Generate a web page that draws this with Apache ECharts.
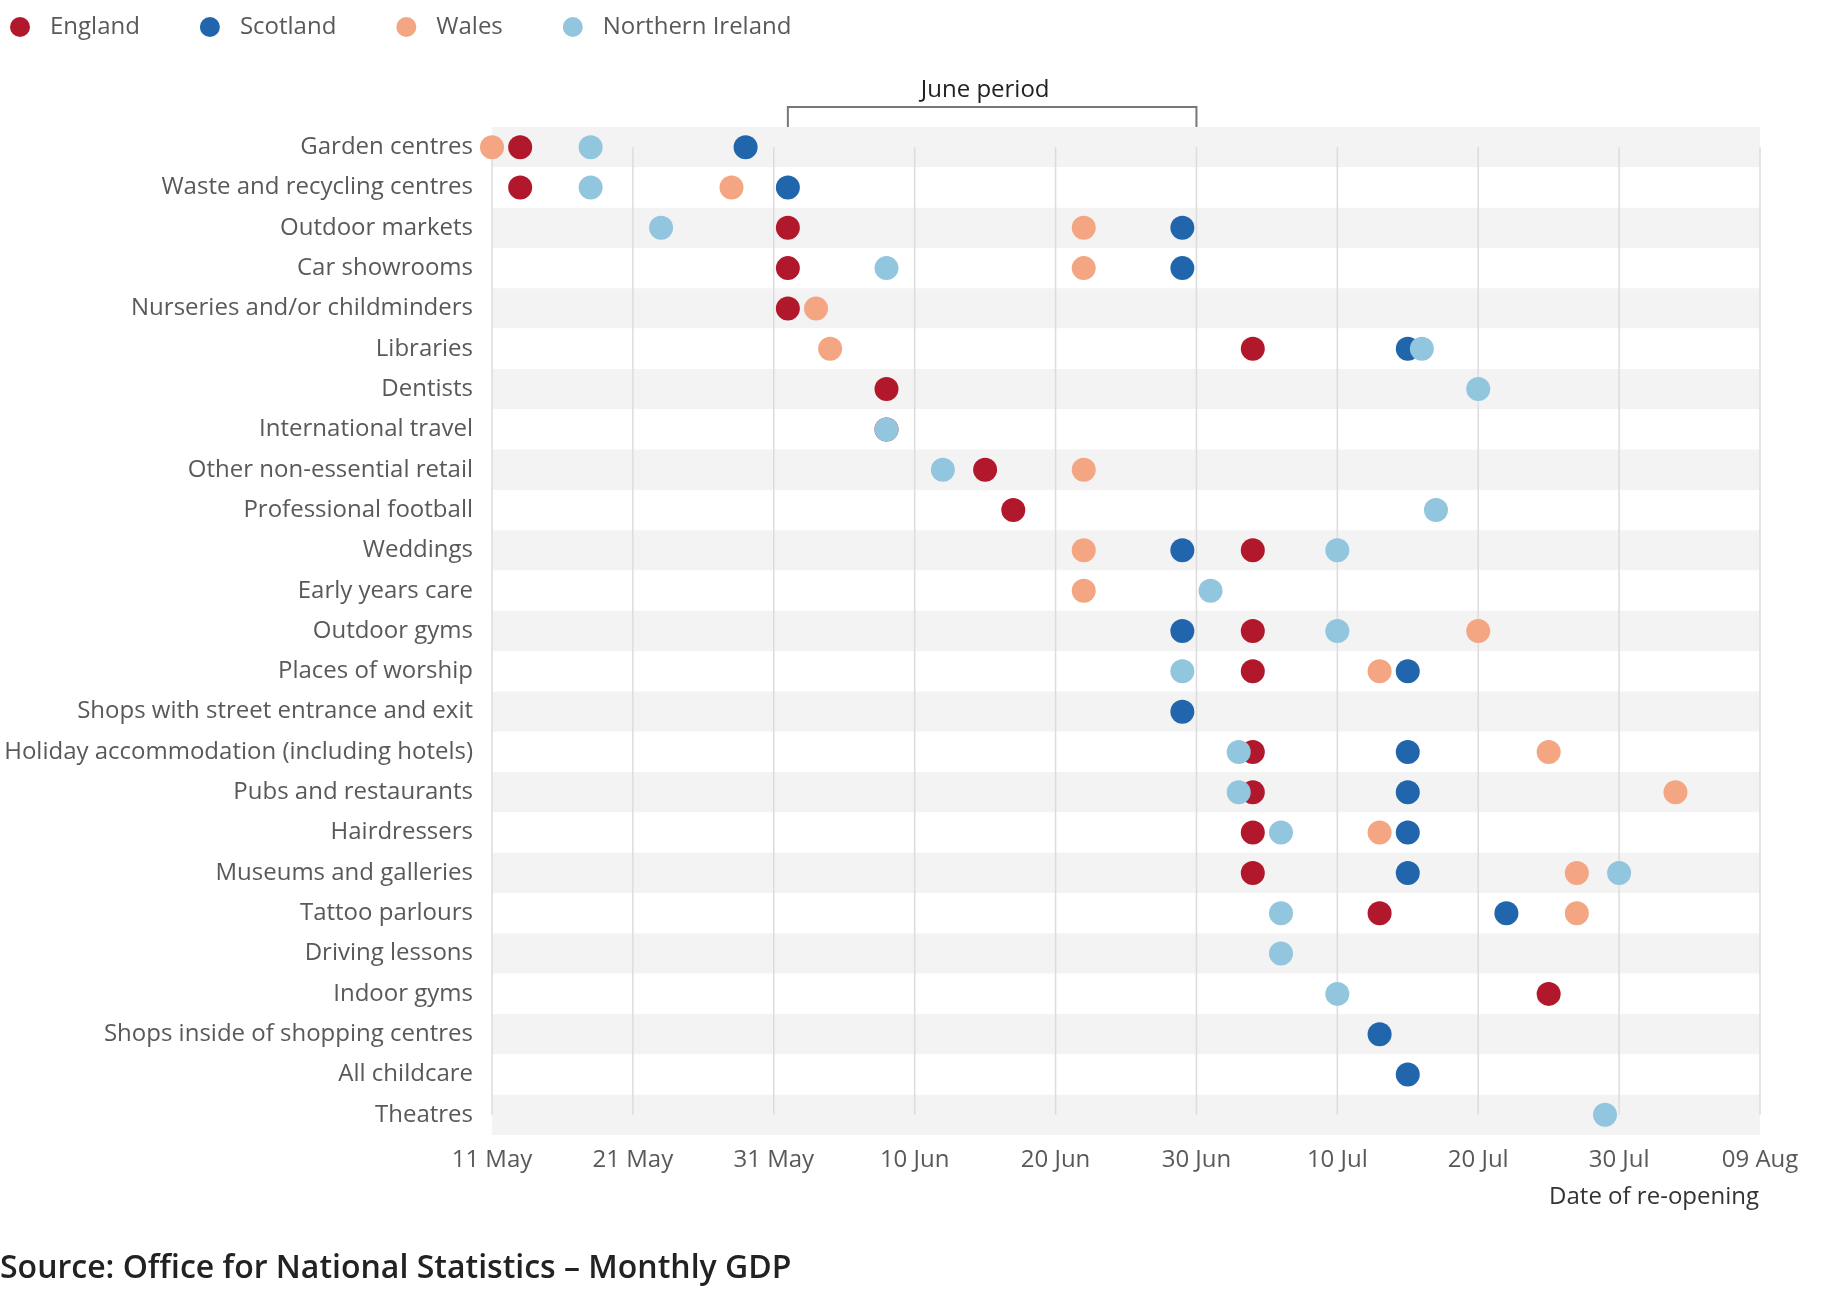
<!DOCTYPE html>
<html>
<head>
<meta charset="utf-8">
<script src="https://cdn.jsdelivr.net/npm/echarts@6/dist/echarts.min.js"></script>
<style>
html,body{margin:0;padding:0;background:#fff;}
#chart{width:1833px;height:1307px;}
</style>
</head>
<body>
<div id="chart"></div>
<script>
const categories = [
  'Garden centres','Waste and recycling centres','Outdoor markets','Car showrooms',
  'Nurseries and/or childminders','Libraries','Dentists','International travel',
  'Other non-essential retail','Professional football','Weddings','Early years care',
  'Outdoor gyms','Places of worship','Shops with street entrance and exit',
  'Holiday accommodation (including hotels)','Pubs and restaurants','Hairdressers',
  'Museums and galleries','Tattoo parlours','Driving lessons','Indoor gyms',
  'Shops inside of shopping centres','All childcare','Theatres'
];
const england = ['2020-05-13','2020-05-13','2020-06-01','2020-06-01','2020-06-01','2020-07-04','2020-06-08','2020-06-08','2020-06-15','2020-06-17','2020-07-04',null,'2020-07-04','2020-07-04',null,'2020-07-04','2020-07-04','2020-07-04','2020-07-04','2020-07-13',null,'2020-07-25',null,null,null];
const scotland = ['2020-05-29','2020-06-01','2020-06-29','2020-06-29',null,'2020-07-15',null,null,null,null,'2020-06-29',null,'2020-06-29','2020-07-15','2020-06-29','2020-07-15','2020-07-15','2020-07-15','2020-07-15','2020-07-22',null,null,'2020-07-13','2020-07-15',null];
const wales = ['2020-05-11','2020-05-28','2020-06-22','2020-06-22','2020-06-03','2020-06-04',null,null,'2020-06-22',null,'2020-06-22','2020-06-22','2020-07-20','2020-07-13',null,'2020-07-25','2020-08-03','2020-07-13','2020-07-27','2020-07-27',null,null,null,null,null];
const northernIreland = ['2020-05-18','2020-05-18','2020-05-23','2020-06-08',null,'2020-07-16','2020-07-20','2020-06-08','2020-06-12','2020-07-17','2020-07-10','2020-07-01','2020-07-10','2020-06-29',null,'2020-07-03','2020-07-03','2020-07-06','2020-07-30','2020-07-06','2020-07-06','2020-07-10',null,null,'2020-07-29'];
const startDate = '2020-05-11';
const tickLabels = ['11 May','21 May','31 May','10 Jun','20 Jun','30 Jun','10 Jul','20 Jul','30 Jul','09 Aug'];
const junePeriod = ['2020-06-01','2020-06-30'];

const DAY = 86400000;
const dayOf = d => Math.round((Date.parse(d) - Date.parse(startDate)) / DAY);
const toPoints = arr => arr.map((d, i) => d ? [dayOf(d), i] : null).filter(Boolean);

const font = 'Open Sans';
const labelColor = '#595959';
const xMax = (tickLabels.length - 1) * 10;
const lastRow = categories.length - 1;

const mkScatter = (name, arr, color) => ({
  name, type: 'scatter', data: toPoints(arr), symbol: 'circle', symbolSize: 24,
  itemStyle: {color, opacity: 1}, z: 3, emphasis: {disabled: true}
});

const chart = echarts.init(document.getElementById('chart'));
chart.setOption({
  animation: false,
  textStyle: {fontFamily: font},
  title: {
    text: 'Source: Office for National Statistics \u2013 Monthly GDP',
    left: 0, top: 1253, padding: 0,
    textStyle: {fontFamily: font, fontSize: 32, fontWeight: 600, color: '#222'}
  },
  legend: {
    data: ['England','Scotland','Wales','Northern Ireland'],
    icon: 'circle', left: 5, top: 10, itemWidth: 50, itemHeight: 20, itemGap: 60,
    textStyle: {fontFamily: font, fontSize: 24, color: labelColor}
  },
  grid: {left: 492, right: 73, top: 127, bottom: 172, containLabel: false},
  xAxis: {
    type: 'value', min: 0, max: xMax, interval: 10,
    axisLine: {show: false}, axisTick: {show: false}, splitLine: {show: false},
    axisLabel: {fontFamily: font, fontSize: 24, color: labelColor, margin: 13,
      formatter: v => tickLabels[Math.round(v / 10)] || ''}
  },
  yAxis: {
    type: 'category', data: categories, inverse: true,
    axisLine: {show: false}, axisTick: {show: false}, splitLine: {show: false},
    splitArea: {show: true, areaStyle: {color: ['#f3f3f3', '#ffffff']}},
    axisLabel: {fontFamily: font, fontSize: 24, color: labelColor, margin: 19}
  },
  graphic: [{
    type: 'text', right: 74, top: 1185,
    style: {text: 'Date of re-opening', fontFamily: font, fontSize: 24, fill: '#333', textAlign: 'right'}
  }],
  series: [
    {
      name: 'gridlines', type: 'custom', z: 1, silent: true,
      data: tickLabels.map((t, i) => [i * 10, 0]),
      encode: {x: 0, y: 1},
      renderItem: (params, api) => {
        const v = api.value(0);
        const a = api.coord([v, 0]);
        const b = api.coord([v, lastRow]);
        return {type: 'line', shape: {x1: a[0], y1: a[1], x2: b[0], y2: b[1]},
          style: {stroke: '#dcdcdc', lineWidth: 1.5}};
      }
    },
    {
      name: 'bracket', type: 'custom', z: 1, silent: true, clip: false,
      data: [[dayOf(junePeriod[0]), 0, dayOf(junePeriod[1])]],
      encode: {x: [0, 2], y: 1},
      renderItem: (params, api) => {
        const a = api.coord([api.value(0), 0]);
        const b = api.coord([api.value(2), 0]);
        const bandH = api.size([0, 1])[1];
        const top = a[1] - bandH / 2;
        return {
          type: 'group',
          children: [
            {type: 'polyline', shape: {points: [[a[0], top], [a[0], top - 20], [b[0], top - 20], [b[0], top]]},
             style: {stroke: '#777', lineWidth: 2, fill: null}},
            {type: 'text', style: {text: 'June period', x: (a[0] + b[0]) / 2 - 7, y: top - 37,
             textAlign: 'center', textVerticalAlign: 'middle', fontFamily: font, fontSize: 24, fill: '#222'}}
          ]
        };
      }
    },
    mkScatter('England', england, '#b2182b'),
    mkScatter('Scotland', scotland, '#2166ac'),
    mkScatter('Wales', wales, '#f4a582'),
    mkScatter('Northern Ireland', northernIreland, '#92c5de')
  ]
});
</script>
</body>
</html>
